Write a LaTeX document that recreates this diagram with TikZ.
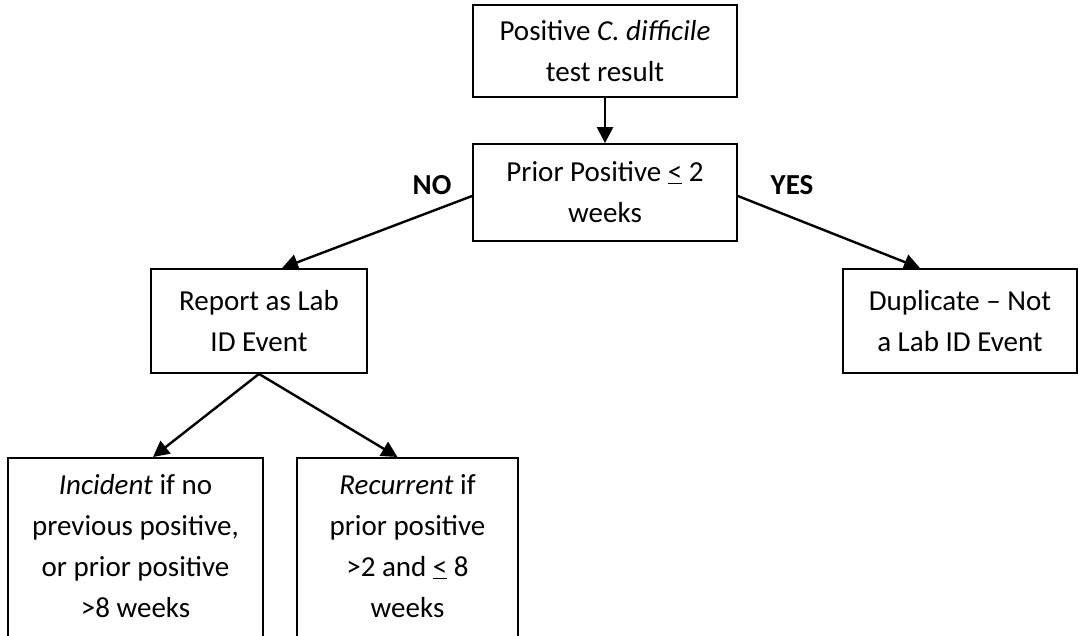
\documentclass[tikz,border=0pt]{standalone}
\usepackage{fontspec}
\setmainfont{Carlito}
\usetikzlibrary{arrows.meta,calc}
\begin{document}
\begin{tikzpicture}[x=1pt,y=-1pt,
  every node/.append style={font=\fontsize{29pt}{41pt}\selectfont},
  box/.style={draw, line width=1.8pt, align=center, inner sep=0pt},
  txt/.style={align=center, inner sep=0pt},
  conn/.style={line width=2.4pt, -{Triangle[length=16pt,width=16pt]}},
  lbl/.style={font=\fontsize{29pt}{41pt}\selectfont\bfseries, inner sep=0pt}
]
\useasboundingbox (0,0) rectangle (1078,635);
\clip (0,0) rectangle (1078,635);

\node[box, minimum width=264pt, minimum height=92pt] (b1) at (605,51) {Positive \textit{C. difficile}\\test result};
\node[box, minimum width=264pt, minimum height=97pt] (b2) at (605,192.5) {Prior Positive \underline{<} 2\\weeks};
\node[box, minimum width=216pt, minimum height=104pt] (b3) at (259,321) {Report as Lab\\ID Event};
\node[box, minimum width=234pt, minimum height=104pt] (b4) at (960,321) {Duplicate – Not\\a Lab ID Event};
\node[box, minimum width=255pt, minimum height=220pt, anchor=north] (b5) at (135.5,457) {};
\node[txt] (t5) at (135.5,546) {\textit{Incident} if no\\previous positive,\\or prior positive\\>8 weeks};
\node[box, minimum width=221pt, minimum height=220pt, anchor=north] (b6) at (407.5,457) {};
\node[txt] (t6) at (407.5,546) {\textit{Recurrent} if\\prior positive\\>2 and \underline{<} 8\\weeks};

\node[lbl] (no) at (432,185) {NO};
\node[lbl] (yes) at (792,185) {YES};

\draw[conn] (b1.south) -- (b2.north);
\draw[conn] ($(b2.west)+(0,3.5)$) -- ($(b3.north)+(23,0)$);
\draw[conn] ($(b2.east)+(0,3.5)$) -- ($(b4.north)+(-40,0)$);
\draw[conn] (b3.south) -- ($(b5.north)+(17.5,0)$);
\draw[conn] (b3.south) -- ($(b6.north)+(-10,0)$);
\end{tikzpicture}
\end{document}
